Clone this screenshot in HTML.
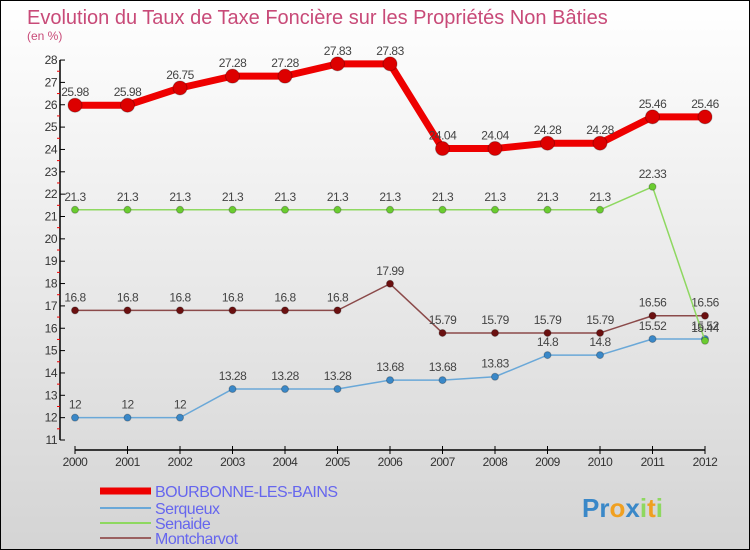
<!DOCTYPE html>
<html><head><meta charset="utf-8"><style>
body{margin:0}
#wrap{width:750px;height:550px;position:relative;overflow:hidden;background:linear-gradient(#ffffff,#d4d4d4);font-family:"Liberation Sans",sans-serif}
#frame{position:absolute;left:0;top:0;width:748px;height:548px;border:1px solid #000}
</style></head><body>
<div id="wrap">
<div id="frame"></div>
<svg id="svg" width="750" height="550" style="position:absolute;left:0;top:0"></svg>
</div>
<script>
const years=["2000","2001","2002","2003","2004","2005","2006","2007","2008","2009","2010","2011","2012"];
const bourbonne=[25.98,25.98,26.75,27.28,27.28,27.83,27.83,24.04,24.04,24.28,24.28,25.46,25.46];
const serqueux=[12,12,12,13.28,13.28,13.28,13.68,13.68,13.83,14.8,14.8,15.52,15.52];
const senaide=[21.3,21.3,21.3,21.3,21.3,21.3,21.3,21.3,21.3,21.3,21.3,22.33,15.44];
const montcharvot=[16.8,16.8,16.8,16.8,16.8,16.8,17.99,15.79,15.79,15.79,15.79,16.56,16.56];
const yTicks=[11,12,13,14,15,16,17,18,19,20,21,22,23,24,25,26,27,28];
const NS="http://www.w3.org/2000/svg";
const svg=document.getElementById('svg');
const X=i=>75+i*52.5;
const Y=v=>440-(v-11)*22.35;
function el(t,a,p){const e=document.createElementNS(NS,t);for(const k in a)e.setAttribute(k,a[k]);(p||svg).appendChild(e);return e;}
function txt(s,x,y,a){const e=el('text',Object.assign({x:x,y:y},a));e.textContent=s;return e;}
let t=txt("Evolution du Taux de Taxe Foncière sur les Propriétés Non Bâties",27,24,{fill:"#c84a78","font-size":"20"});

t=txt("(en %)",27,40,{fill:"#c84a78","font-size":"12"});

let ax=el('line',{x1:60,y1:Y(28),x2:60,y2:Y(11),stroke:"#000","stroke-width":1.5});

yTicks.forEach(v=>{
 el('line',{x1:60,y1:Y(v),x2:65,y2:Y(v),stroke:"#000"});
 if(v<28)el('line',{x1:57,y1:Y(v+0.5),x2:60,y2:Y(v+0.5),stroke:"#e00"});
 const l=txt(String(v),57,Y(v)+4,{"text-anchor":"end","font-size":"12",fill:"#333","letter-spacing":"-0.5"});
 
});
ax=el('line',{x1:X(0),y1:450,x2:X(12),y2:450,stroke:"#000","stroke-width":1.5});

years.forEach((y,i)=>{
 el('line',{x1:X(i),y1:446,x2:X(i),y2:454,stroke:"#000"});
 const l=txt(y,X(i),466,{"text-anchor":"middle","font-size":"12",fill:"#333","letter-spacing":"-0.5"});
 
});
function series(name,data,color,w,r,dot){
 const g=el('g',{});
 
 
 el('polyline',{points:data.map((v,i)=>X(i)+","+Y(v)).join(" "),fill:"none",stroke:color,"stroke-width":w,"stroke-linejoin":"round"},g);
 data.forEach((v,i)=>{
  const c=el('circle',{cx:X(i),cy:Y(v),r:r,fill:dot,stroke:"rgba(0,0,0,0.25)"},g);
  
  
  const l=txt(String(v),X(i),Y(v)-9,{"text-anchor":"middle","font-size":"12",fill:"#444","letter-spacing":"-0.5"},g);
  
  
 });
}
series('bourbonne',bourbonne,"#ee0000",7,7,"#dd0000");
series('montcharvot',montcharvot,"#8b4a4a",1.5,3.5,"#6b1010");
series('serqueux',serqueux,"#6aa8d8",1.5,3.5,"#3a88c8");
series('senaide',senaide,"#8ed860",1.5,3.5,"#6acc30");
const leg=[["BOURBONNE-LES-BAINS","#ee0000",7,491],["Serqueux","#6aa8d8",2,508],["Senaide","#8ed860",2,523],["Montcharvot","#9a6060",2,538]];
leg.forEach(d=>{
 const g=el('g',{});
 
 
 el('line',{x1:100,y1:d[3],x2:151,y2:d[3],stroke:d[1],"stroke-width":d[2]},g);
 txt(d[0],155,d[3]+6,{"font-size":"16",fill:"#6666ee","letter-spacing":"-0.5"},g);
});
const lg=txt("",582,517,{"font-size":"26","font-weight":"bold","font-family":"Liberation Sans, sans-serif"});

[["Pr","#3a88c8"],["o","#f0a020"],["x","#3a88c8"],["i","#8ed860"],["t","#f0a020"],["i","#8ed860"]].forEach(p=>{const s=el('tspan',{fill:p[1]},lg);s.textContent=p[0];});
</script>
</body></html>
